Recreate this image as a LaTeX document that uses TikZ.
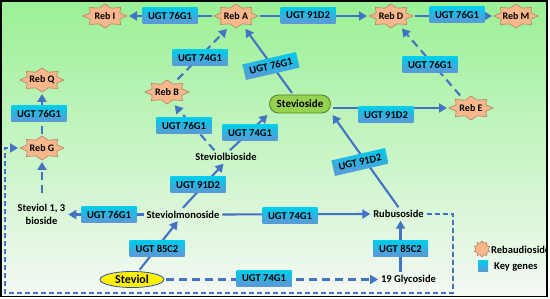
\documentclass[tikz,border=0pt]{standalone}
\usepackage{fontspec}
\setmainfont{Carlito}
\usetikzlibrary{arrows.meta,shapes.geometric}
\definecolor{arrowblue}{RGB}{68,114,196}
\definecolor{genetop}{RGB}{0,204,236}
\definecolor{genebot}{RGB}{96,150,214}
\definecolor{rebfill}{RGB}{248,184,140}
\definecolor{rebline}{RGB}{185,125,95}
\definecolor{bgtop}{RGB}{155,240,150}
\definecolor{bgmid}{RGB}{195,242,190}
\definecolor{bgbot}{RGB}{244,249,244}
\definecolor{stevfill}{RGB}{150,210,80}
\definecolor{stevline}{RGB}{80,130,40}
\definecolor{steviolline}{RGB}{50,80,170}
\pgfdeclarelayer{bg}\pgfdeclarelayer{lines}\pgfsetlayers{bg,lines,main}
\tikzset{
 gene/.style={rectangle, top color=genetop, bottom color=genebot, draw=none, minimum width=55pt, minimum height=16pt, inner sep=0pt, font=\bfseries\fontsize{10.5}{11}\selectfont, text=black},
 cmpd/.style={inner sep=1pt, outer sep=2pt, font=\bfseries\fontsize{10.5}{13}\selectfont, align=center},
 rebnode/.style={ellipse, minimum width=42pt, minimum height=22pt, inner sep=0pt, outer sep=3pt, font=\bfseries\fontsize{10}{10}\selectfont},
 stevbox/.style={rectangle, rounded corners=9pt, minimum width=61pt, minimum height=18pt, inner sep=0pt, outer sep=2pt, fill=stevfill, draw=stevline, line width=0.8pt, font=\bfseries\fontsize{11}{12}\selectfont},
 steviolbox/.style={ellipse, minimum width=64pt, minimum height=16pt, inner sep=0pt, outer sep=2pt, fill=yellow, draw=steviolline, line width=0.8pt, font=\bfseries\fontsize{12}{13}\selectfont},
 legtxt/.style={inner sep=0pt, font=\bfseries\fontsize{10.5}{11}\selectfont},
 flow/.style={draw=arrowblue, line width=2.1pt, -{Triangle[length=8pt,width=9pt]}},
 flowdash/.style={flow, dash pattern=on 8pt off 5pt},
 loopdash/.style={flow, dash pattern=on 5pt off 3pt},
 rebstarshape/.style={fill=rebfill, draw=rebline, line width=0.6pt},
}
\newcommand\rebstar[4]{%
  \draw[rebstarshape, shift={(#2,#3)}] (90:22pt and 12pt)
    \foreach \a in {0,45,...,315}{ -- ({\a+112.5}:16pt and 8.5pt) -- ({\a+135}:22pt and 12pt)} -- cycle;
  \node[rebnode] (#1) at (#2,#3) {#4};
}
\begin{document}
\begin{tikzpicture}[x=1pt,y=-1pt]
\useasboundingbox (0,0) rectangle (550,299);
\begin{pgfonlayer}{bg}
\shade[top color=bgtop, middle color=bgmid, bottom color=bgbot] (1,1) rectangle (547,296.5);
\end{pgfonlayer}

% stars
\rebstar{rI}{105}{16}{Reb I}
\rebstar{rA}{236}{16}{Reb A}
\rebstar{rD}{391}{16}{Reb D}
\rebstar{rM}{516}{16}{Reb M}
\rebstar{rB}{167}{92}{Reb B}
\rebstar{rQ}{42}{80}{Reb Q}
\rebstar{rG}{42}{148}{Reb G}
\rebstar{rE}{471}{108}{Reb E}

% compounds
\node[stevbox] (st) at (300,104) {Stevioside};
\node[steviolbox] (sl) at (132,279.5) {Steviol};
\node[cmpd] (sb) at (226,157) {Steviolbioside};
\node[cmpd] (sm) at (183,214.5) {Steviolmonoside};
\node[cmpd] (s13) at (41.5,214.5) {Steviol 1, 3\\bioside};
\node[cmpd] (rb) at (398.5,214) {Rubusoside};
\node[cmpd] (gl) at (408.5,279.5) {19 Glycoside};

% genes
\node[gene] (g1) at (170,15.5) {UGT 76G1};
\node[gene] (g2) at (308,15.5) {UGT 91D2};
\node[gene] (g3) at (457,15) {UGT 76G1};
\node[gene] (g4) at (200,58) {UGT 74G1};
\node[gene, rotate=13] (g5) at (271,66) {UGT 76G1};
\node[gene] (g6) at (184,126) {UGT 76G1};
\node[gene] (g7) at (250,133) {UGT 74G1};
\node[gene] (g8) at (386,115) {UGT 91D2};
\node[gene] (g9) at (430,65) {UGT 76G1};
\node[gene] (g10) at (39,114) {UGT 76G1};
\node[gene] (g11) at (198,185) {UGT 91D2};
\node[gene] (g12) at (109,214.5) {UGT 76G1};
\node[gene] (g13) at (290,216) {UGT 74G1};
\node[gene, rotate=13] (g14) at (360,162) {UGT 91D2};
\node[gene] (g15) at (157,248.5) {UGT 85C2};
\node[gene] (g16) at (264,278.5) {UGT 74G1};
\node[gene] (g17) at (400.5,248.5) {UGT 85C2};

\coordinate (c1) at (453,293);
\coordinate (c2) at (5,293);

% connectors
\begin{pgfonlayer}{lines}
\draw[flow] (rA) -- (rI);
\draw[flow] (rA) -- (rD);
\draw[flow] (rD) -- (rM);
\draw[flowdash] (rB.50) -- (rA.235);
\draw[flow] (st) -- (rA);
\draw[flowdash] (sb.150) -- (rB.300);
\draw[flow] (sb.60) -- (st.south west);
\draw[flow] (st.east |- rE.west) -- (rE.west);
\draw[flowdash] (rE) -- (rD);
\draw[flowdash] (rG) -- (rQ);
\draw[flowdash, shorten <=8pt] (s13.north -| rG) -- (rG);
\draw[flow] (sm.north) -- (sb.250);
\draw[flow] (sm.west) -- (s13.east);
\draw[flow] (sm.east) -- (rb.west);
\draw[flow] (sl) -- (sm);
\draw[flowdash] (sl.east) -- (gl.west);
\draw[flow] (gl.north -| g17) -- (rb.south -| g17);
\draw[flow] (rb.north) -- (st.south east);
\draw[loopdash] (rb.east) -| (c1) -- (c2) |- (rG.west);
\end{pgfonlayer}

% legend
\draw[rebstarshape, shift={(482,249)}] (90:8pt)
  \foreach \a in {0,36,...,324}{ -- ({\a+108}:6pt) -- ({\a+126}:8pt)} -- cycle;
\shade[top color=genetop, bottom color=genebot] (478,261) rectangle (488,272);
\begin{scope}
\clip (0,0) rectangle (546.5,299);
\node[legtxt, anchor=west] (lg1) at (491,249.5) {Rebaudioside};
\node[legtxt, anchor=west] (lg2) at (494,266.5) {Key genes};
\end{scope}

\draw[line width=1.2pt] (1,1) rectangle (547,296.5);
\end{tikzpicture}
\end{document}
